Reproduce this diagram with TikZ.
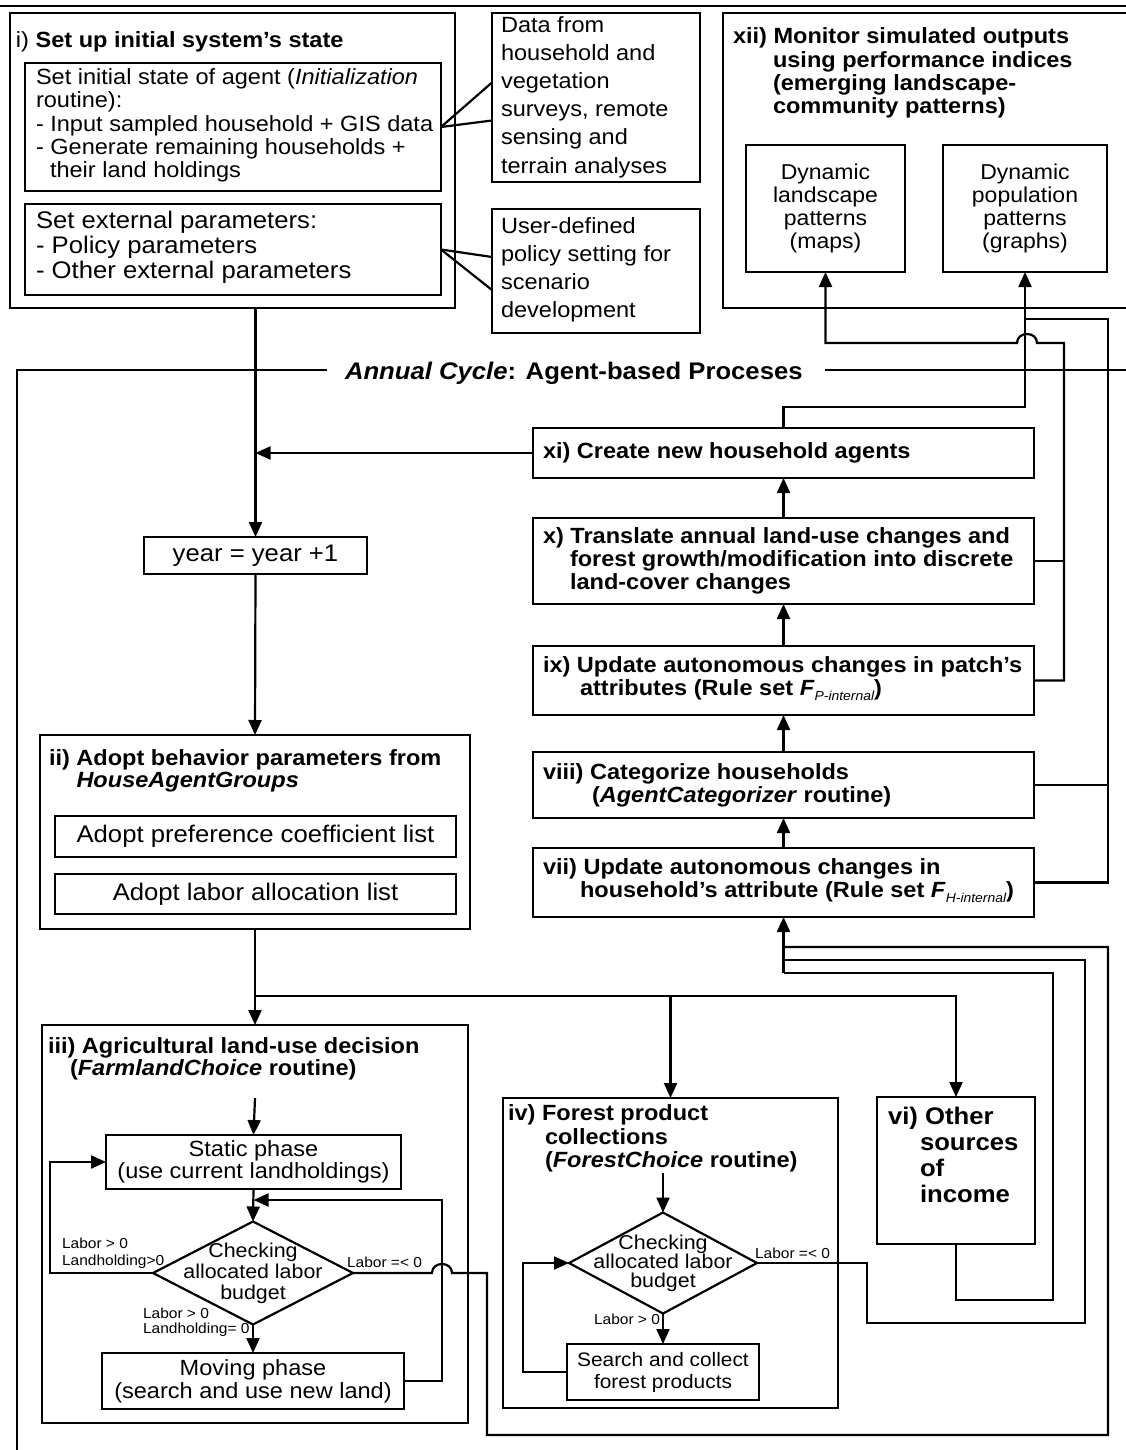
\documentclass[tikz,border=0pt]{standalone}
\usepackage{fontspec}
\setmainfont{Liberation Sans}[FakeStretch=1.07]
\usetikzlibrary{arrows.meta,shapes.geometric}
\newcommand\myfs[2]{\fontsize{#1}{#2}\selectfont}
\begin{document}
\begin{tikzpicture}[x=1pt,y=-1pt,
  every node/.style={inner sep=0pt, outer sep=0pt},
  box/.style={draw, line width=2.4pt, anchor=north west},
  ln/.style={line width=2.2pt},
  arr/.style={line width=2.2pt, -{Triangle[length=15pt,width=13pt]}},
  body/.style={anchor=west, align=left},
  ttl/.style={anchor=west, align=left, font=\myfs{22}{23.3}\bfseries},
  small/.style={anchor=west, align=left, font=\myfs{14.5}{17}},
  dia/.style={draw, line width=2.2pt, shape=diamond},
]
\useasboundingbox (0,0) rectangle (1126,1450);
\fill[white] (0,0) rectangle (1126,1450);
\clip (0,0) rectangle (1126,1450);

% top rule
\draw[ln] (0,6) -- (1126,6);

% ---- i) ----
\node[box, line width=2.8pt, minimum width=445, minimum height=295] (bi) at (10,13) {};
\node[body, font=\myfs{22}{23.5}] (biT) at (16,42) {i) \textbf{Set up initial system’s state}};
\node[box, minimum width=416, minimum height=128] (bA) at (25,63) {};
\node[body, font=\myfs{22}{23.3}] (bAt) at (36,125.5) {Set initial state of agent (\textit{Initialization}\\routine):\\- Input sampled household + GIS data\\- Generate remaining households +\\\hspace*{14pt}their land holdings};
\node[box, minimum width=416, minimum height=91] (bB) at (25,204) {};
\node[body, font=\myfs{24}{25}] (bBt) at (36,247) {Set external parameters:\\- Policy parameters\\- Other external parameters};

\node[box, minimum width=208, minimum height=169] (data) at (492,13) {};
\node[body, font=\myfs{22}{28.2}] (datat) at (501,97) {Data from\\household and\\vegetation\\surveys, remote\\sensing and\\terrain analyses};
\node[box, minimum width=208, minimum height=124] (user) at (492,209) {};
\node[body, font=\myfs{22}{28}] (usert) at (501,270) {User-defined\\policy setting for\\scenario\\development};

\draw[ln] (bA.east) -- ([yshift=15pt]data.west);
\draw[ln] (bA.east) -- ([yshift=-23pt]data.west);
\draw[ln] (bB.east) -- ([yshift=14pt]user.west);
\draw[ln] (bB.east) -- ([yshift=-19pt]user.west);

% ---- xii) ----
\node[box, line width=2.8pt, minimum width=460, minimum height=295] (bxii) at (723,13) {};
\node[ttl] (bxiit) at (733,73) {xii) Monitor simulated outputs\\\hspace*{40pt}using performance indices\\\hspace*{40pt}(emerging landscape-\\\hspace*{40pt}community patterns)};
\node[box, minimum width=159, minimum height=127, align=center, font=\myfs{21.5}{23}] (land) at (746,145) {Dynamic\\landscape\\patterns\\(maps)};
\node[box, minimum width=164, minimum height=127, align=center, font=\myfs{21.5}{23}] (pop) at (943,145) {Dynamic\\population\\patterns\\(graphs)};

% ---- annual cycle frame ----
\node[body, font=\myfs{24}{26}\bfseries] (ac) at (345,373) {\textit{Annual Cycle}: Agent-based Proceses};
\draw[ln] (327,370) -- (17,370) -- (17,1470);
\draw[ln] (825,370) -- (1140,370);

% ---- right column ----
\node[box, minimum width=501, minimum height=50] (xi) at (533,428) {};
\node[ttl] (xit) at ([xshift=10pt]xi.west) {xi) Create new household agents};
\node[box, minimum width=501, minimum height=86] (x) at (533,518) {};
\node[ttl] (xt) at ([xshift=10pt]x.west) {x) Translate annual land-use changes and\\\hspace*{27pt}forest growth/modification into discrete\\\hspace*{27pt}land-cover changes};
\node[box, minimum width=501, minimum height=69] (ix) at (533,646) {};
\node[ttl] (ixt) at ([xshift=10pt, yshift=2pt]ix.west) {ix) Update autonomous changes in patch’s\\\hspace*{37pt}attributes (Rule set \textit{F}\raisebox{-5pt}{\myfs{13}{13}\mdseries\itshape P-internal})};
\node[box, minimum width=501, minimum height=66] (viii) at (533,752) {};
\node[ttl] (viiit) at ([xshift=10pt]viii.west) {viii) Categorize households\\\hspace*{49pt}(\textit{AgentCategorizer} routine)};
\node[box, minimum width=501, minimum height=69] (vii) at (533,848) {};
\node[ttl] (viit) at ([xshift=10pt, yshift=2pt]vii.west) {vii) Update autonomous changes in\\\hspace*{37pt}household’s attribute (Rule set \textit{F}\raisebox{-5pt}{\myfs{13}{13}\mdseries\itshape H-internal})};

\draw[arr] (vii.north) -- (viii.south);
\draw[arr] (viii.north) -- (ix.south);
\draw[arr] (ix.north) -- (x.south);
\draw[arr] (x.north) -- (xi.south);

% outputs to xii
\coordinate (c1) at (1064,343);
\coordinate (c2) at (1108,319);
\coordinate (pj) at (1025,407);
\draw[arr] (ix.east) -| (c1) -- (1037,343) .. controls (1037,331) and (1017,331) .. (1017,343) -- (land.south |- c1) -- (land.south);
\draw[ln] (x.east) -- (x.east -| c1);
\draw[arr] (xi.north) |- (pj) -- (pop.south);
\draw[ln] (vii.east) -| (c2) -- (pop.south |- c2);
\draw[ln] (viii.east) -- (viii.east -| c2);

% ---- left column ----
\node[box, minimum width=223, minimum height=37, font=\myfs{24}{26}] (year) at (144,537) {year = year +1};
\draw[arr] (bi.south -| year.north) -- (year.north);
\draw[arr] (xi.west) -- (xi.west -| year.north);

\node[box, line width=2.6pt, minimum width=430, minimum height=194] (ii) at (40,735) {};
\node[body, font=\myfs{22}{22}\bfseries] (iit) at (49,771) {ii) Adopt behavior parameters from\\\hspace*{27.5pt}\textit{HouseAgentGroups}};
\node[box, minimum width=401, minimum height=41, font=\myfs{24}{26}] (pref) at (55,816) {Adopt preference coefficient list};
\node[box, minimum width=401, minimum height=40, font=\myfs{24}{26}] (labl) at (55,874) {Adopt labor allocation list};
\draw[arr] (year.south) -- (ii.north);

% ---- iii) ----
\node[box, line width=2.6pt, minimum width=426, minimum height=398] (iii) at (42,1025) {};
\node[body, font=\myfs{22}{22}\bfseries] (iiit) at (48,1059) {iii) Agricultural land-use decision\\\hspace*{22pt}(\textit{FarmlandChoice} routine)};
\node[box, minimum width=295, minimum height=54, align=center, font=\myfs{22}{20}] (static) at (106,1135) {Static phase\\(use current landholdings)};
\node[dia, minimum width=200, minimum height=103] (d1) at (253,1273) {};
\node[align=center, font=\myfs{20}{21}] (d1t) at (d1.center) {Checking\\allocated labor\\budget};
\node[box, minimum width=302, minimum height=56, align=center, font=\myfs{22}{23}] (moving) at (102,1353) {Moving phase\\(search and use new land)};
\coordinate (iiiin) at (255,1098);
\coordinate (lA) at (50,1162);
\coordinate (c4) at (442,1200);
\draw[arr] (iiiin) -- (static.north);
\draw[arr] (static.south) -- (d1.north);
\draw[arr] (d1.west) -| (lA) -- (static.west);
\draw[arr] (d1.south) -- (moving.north);
\draw[arr] (moving.east) -| (c4) -- (c4 -| static.south);
\node[small] (l1) at (62,1253) {Labor > 0\\Landholding>0};
\node[small] (l2) at (347,1262) {Labor =< 0};
\node[small, font=\myfs{14.5}{15}] (l3) at (143,1322) {Labor > 0\\Landholding= 0};

% ---- iv) ----
\node[box, line width=2.6pt, minimum width=335, minimum height=310] (iv) at (503,1098) {};
\node[body, font=\myfs{22}{23.5}\bfseries] (ivt) at (508,1138.5) {iv) Forest product\\\hspace*{37pt}collections\\\hspace*{37pt}(\textit{ForestChoice} routine)};
\node[dia, minimum width=188, minimum height=101] (d2) at (663,1263) {};
\node[align=center, font=\myfs{20}{19}] (d2t) at (d2.center) {Checking\\allocated labor\\budget};
\node[box, minimum width=192, minimum height=56, align=center, font=\myfs{19.5}{22}] (search) at (567,1344) {Search and collect\\forest products};
\coordinate (ivin) at (663,1173);
\coordinate (lB) at (523,1263);
\draw[arr] (ivin) -- (d2.north);
\draw[arr] (d2.south) -- (search.north);
\draw[arr] (search.west) -| (lB) -- (d2.west);
\node[small] (l4) at (755,1253) {Labor =< 0};
\node[small] (l5) at (594,1319) {Labor > 0};

% ---- vi) ----
\node[box, line width=2.6pt, minimum width=158, minimum height=147] (vi) at (877,1097) {};
\node[body, font=\myfs{24}{26}\bfseries] (vit) at (888,1155) {vi) Other\\\hspace*{32pt}sources\\\hspace*{32pt}of\\\hspace*{32pt}income};

% ---- branching from ii) ----
\coordinate (j1) at (255,996);
\draw[arr] (ii.south) -- (iii.north);
\draw[arr] (j1) -| (vi.north);
\draw[arr] (iv.north |- j1) -- (iv.north);

% ---- feedback into vii) ----
\coordinate (r1) at (487,1435);
\coordinate (r2) at (1108,947);
\coordinate (r3) at (867,1323);
\coordinate (r4) at (1085,960);
\coordinate (r5) at (1053,1300);
\coordinate (r6) at (1053,973);
\draw[ln] (d1.east) -- (432,1273) .. controls (432,1261) and (452,1261) .. (452,1273) -| (r1) -| (r2) -- (vii.south |- r2);
\draw[ln] (d2.east) -| (r3) -| (r4) -- (vii.south |- r4);
\draw[ln] (vi.south) |- (r5) -- (r6) -- (vii.south |- r6);
\draw[arr] (vii.south |- r6) -- (vii.south);
\end{tikzpicture}
\end{document}
